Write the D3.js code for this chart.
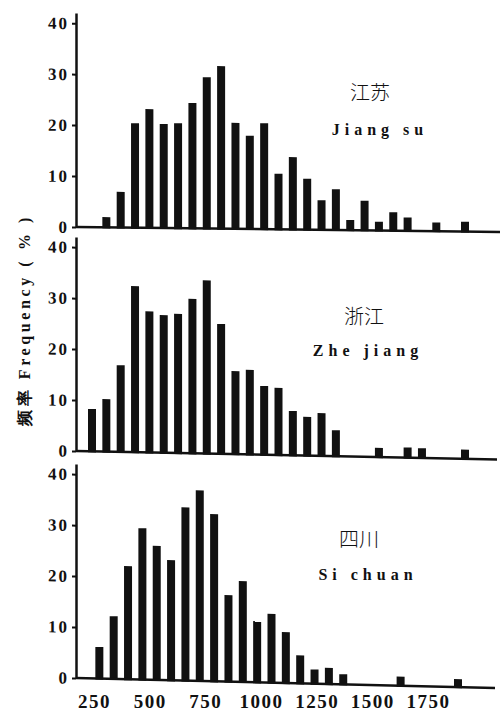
<!DOCTYPE html>
<html>
<head>
<meta charset="utf-8">
<script src="https://cdn.jsdelivr.net/npm/d3@7"></script>
<style>
  body { margin: 0; background: #fff; }
  text { font-family: "Liberation Serif", "DejaVu Serif", serif; }
</style>
</head>
<body>
<script>
const width = 503, height = 719;

// bin index (same bins in all three panels)
const bins = [0, 1, 2, 3, 4, 5, 6, 7, 8, 9, 10, 11, 12, 13, 14, 15, 16, 17, 18, 19, 20, 21, 22, 23, 24, 25, 26];

// frequency (%) per bin
const jiangsu  = [0, 2, 7, 20.5, 23.3, 20.4, 20.6, 24.6, 29.7, 31.9, 20.8, 18.3, 20.8, 10.9, 14.2, 10, 5.8, 8, 2, 5.8, 1.7, 3.6, 2.6, 0, 1.7, 0, 1.9];
const zhejiang = [8.3, 10.3, 17, 32.6, 27.7, 27, 27.3, 30.3, 34, 25.5, 16.3, 16.6, 13.5, 13.2, 8.7, 7.6, 8.4, 5.1, 0, 0, 1.8, 0, 2, 1.9, 0, 0, 1.8];
const sichuan  = [0, 6.2, 12.3, 22.2, 29.7, 26.3, 23.6, 34, 37.4, 32.8, 17, 19.8, 12, 13.5, 10, 5.5, 2.8, 3.2, 2, 0, 0, 0, 1.8, 0, 0, 0, 1.6];

const namesCN = ["江苏", "浙江", "四川"];
const namesEN = ["Jiang su", "Zhe jiang", "Si chuan"];
const yTicks = [0, 10, 20, 30, 40];
const xTicks = [250, 500, 750, 1000, 1250, 1500, 1750];

// layout of the three stacked panels (scanned figure is slightly tilted)
const panels = [
  {values: jiangsu,  base: 227, tilt: 0.66, dx: 0,  xEnd: 500, cn: [370, 93],  en: [378, 130]},
  {values: zhejiang, base: 451, tilt: 1.15, dx: 0,  xEnd: 497, cn: [364, 317], en: [366, 351]},
  {values: sichuan,  base: 678, tilt: 1.38, dx: -7, xEnd: 495, cn: [359, 540], en: [366, 575]}
];

const axisX = 76;

const svg = d3.select("body").append("svg")
  .attr("width", width)
  .attr("height", height);

svg.append("rect").attr("width", width).attr("height", height).attr("fill", "#fff");

const xb = d3.scalePoint().domain(bins).range([92, 465]);
const y = d3.scaleLinear().domain([0, 42]).range([0, -214]);
const barW = 8;

panels.forEach((p, i) => {
  const g = svg.append("g")
    .attr("transform", `translate(0,${p.base}) translate(${axisX},0) skewY(${p.tilt}) translate(${-axisX},0)`);

  // bars
  g.append("g").selectAll("rect")
    .data(bins.filter(b => p.values[b] > 0))
    .join("rect")
    .attr("x", b => xb(b) + p.dx - barW / 2)
    .attr("y", b => y(p.values[b]))
    .attr("width", barW)
    .attr("height", b => y(0) - y(p.values[b]) + 1)
    .attr("fill", "#111");

  // baseline
  g.append("line")
    .attr("x1", axisX).attr("x2", p.xEnd)
    .attr("y1", y(0)).attr("y2", y(0))
    .attr("stroke", "#111").attr("stroke-width", 2.5);

  // y axis
  const ya = g.append("g")
    .attr("transform", `translate(${axisX},0)`)
    .call(d3.axisLeft(y).tickValues(yTicks).tickSize(4).tickSizeOuter(0).tickPadding(3).tickFormat(d3.format("d")));
  ya.select(".domain").attr("stroke", "#111").attr("stroke-width", 2.5);
  ya.selectAll(".tick line").attr("stroke", "#111").attr("stroke-width", 2);
  ya.selectAll(".tick text")
    .attr("fill", "#111")
    .style("font-family", "'Liberation Serif', serif")
    .style("font-weight", "bold")
    .style("font-size", "17px")
    .style("letter-spacing", "2px");

  // region labels
  svg.append("text")
    .attr("x", p.cn[0]).attr("y", p.cn[1] + 7)
    .attr("text-anchor", "middle")
    .style("font-family", "'Noto Sans CJK SC', sans-serif")
    .style("font-size", "20px")
    .style("font-weight", 300)
    .attr("fill", "#111")
    .text(namesCN[i]);

  svg.append("text")
    .attr("x", p.en[0] + 2).attr("y", p.en[1] + 5)
    .attr("text-anchor", "middle")
    .style("font-size", "16px")
    .style("font-weight", "bold")
    .style("letter-spacing", "5px")
    .attr("fill", "#111")
    .text(namesEN[i]);
});

// x tick labels under the bottom panel
const xv = d3.scaleLinear().domain([250, 1750]).range([94, 428]);
const xa = svg.append("g")
  .attr("transform", "translate(0,694)")
  .call(d3.axisBottom(xv).tickValues(xTicks).tickSize(0).tickPadding(0).tickFormat(d3.format("d")));
xa.select(".domain").remove();
xa.selectAll(".tick text")
  .attr("fill", "#111")
  .style("font-family", "'Liberation Serif', serif")
  .style("font-weight", "bold")
  .style("font-size", "19px")
  .style("letter-spacing", "1.5px");

// y axis title
svg.append("text")
  .attr("transform", "translate(30,320) rotate(-90)")
  .attr("text-anchor", "middle")
  .style("font-size", "16px")
  .style("font-weight", "bold")
  .style("letter-spacing", "3.6px")
  .attr("fill", "#111")
  .text("频率 Frequency ( % )");
</script>
</body>
</html>
